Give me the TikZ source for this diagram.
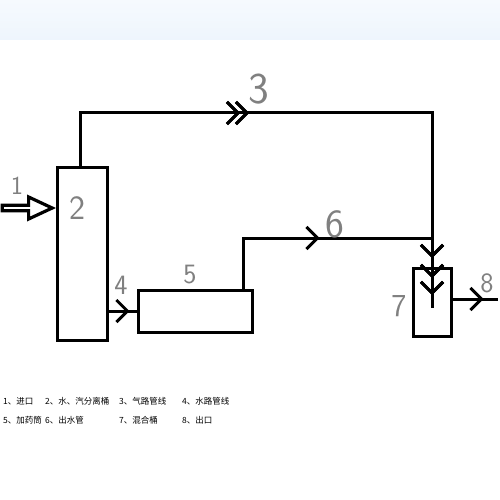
\documentclass[tikz,border=0pt]{standalone}
\usepackage{fontspec}
\newfontfamily\cjk{Noto Sans CJK SC}
\usetikzlibrary{arrows.meta,positioning,shapes.arrows,decorations.markings}
\definecolor{bandtop}{HTML}{F6FAFE}
\definecolor{bandbot}{HTML}{EEF5FD}

\begin{document}
\begin{tikzpicture}[
  x=1pt, y=-1pt,
  vessel/.style={draw, line width=3pt, inner sep=0pt},
  pipe/.style={line width=3pt},
  barb/.style={decoration={markings, mark=at position #1 with {\arrow{Straight Barb[length=11pt,width=22pt,line width=3pt]}}}, postaction={decorate}},
  num/.style={font=\sffamily\fontsize{#1}{#1}\selectfont, text=black!50, inner sep=0pt},
  legend/.style={font=\cjk\fontsize{8.5}{10}\selectfont, anchor=west, inner sep=0pt}
]
\useasboundingbox (0,0) rectangle (500,500);
\shade[top color=bandtop, bottom color=bandbot] (0,0) rectangle (500,40);

% vessels
\node[vessel, minimum width=50pt, minimum height=173pt] (sep) at (82,254) {};
\node[vessel, minimum width=114pt, minimum height=42pt] (doser) at (195,311) {};
\node[vessel, minimum width=38pt, minimum height=68pt] (mixer) at (432,302) {};

% free ends
\coordinate (join) at (432,238);
\coordinate (mixin) at (432,308);
\coordinate (outlet) at (498,299);

% inlet arrow
\node[single arrow, draw, line width=3.2pt, minimum height=50pt, minimum width=22pt,
  single arrow head extend=5pt, single arrow tip angle=50, inner sep=0pt,
  anchor=tip] (inlet) at (56,208) {};

% pipes
\draw[pipe, barb=213pt, barb=222pt] ([xshift=-2pt]sep.north) |- (432,113) -- (join);
\draw[pipe, barb=21pt] (sep.east |- doser.west) -- (doser.west);
\draw[pipe, barb=127pt] ([xshift=48pt]doser.north) |- (join);
\draw[pipe, barb=20pt, barb=40pt, barb=57pt] (join) -- (mixin);
\draw[pipe, barb=31pt] (mixer.east |- outlet) -- (outlet);

% labels
\node[num=26] (l1) at (17,186) {1};
\node[num=34] (l2) at (77,208) {2};
\node[num=44] (l3) at (259,89) {3};
\node[num=28] (l4) at (121,285) {4};
\node[num=28] (l5) at (190,275) {5};
\node[num=40] (l6) at (335,224) {6};
\node[num=32] (l7) at (399,306) {7};
\node[num=28] (l8) at (487,283) {8};

% legend
\node[legend] (leg1) at (3,401) {1、进口};
\node[legend] (leg2) at (45,401) {2、水、汽分离桶};
\node[legend] (leg3) at (119,401) {3、气路管线};
\node[legend] (leg4) at (182,401) {4、水路管线};
\node[legend] (leg5) at (3,420) {5、加药筒};
\node[legend] (leg6) at (45,420) {6、出水管};
\node[legend] (leg7) at (119,420) {7、混合桶};
\node[legend] (leg8) at (182,420) {8、出口};
\end{tikzpicture}
\end{document}
